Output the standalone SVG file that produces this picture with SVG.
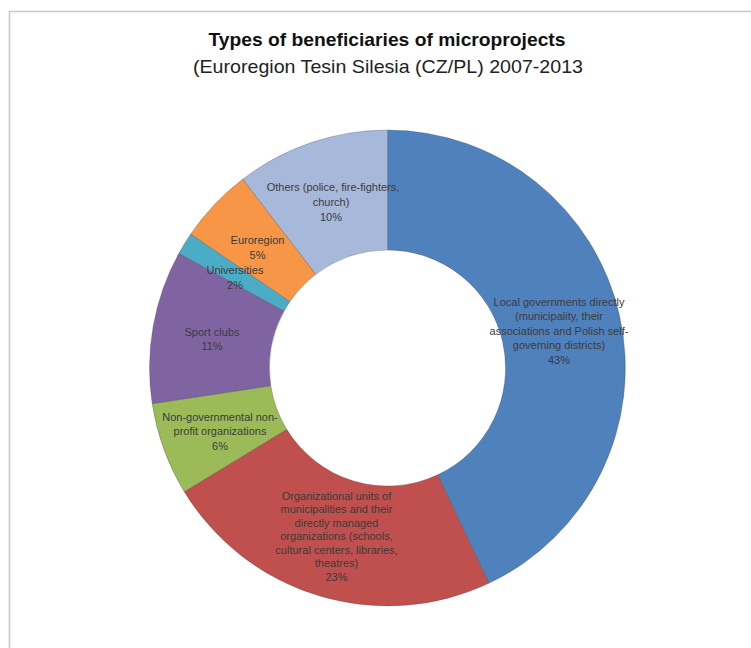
<svg xmlns="http://www.w3.org/2000/svg" width="751" height="648" viewBox="0 0 751 648">
<style>
.seg{stroke:#3a3a3a;stroke-opacity:0.35;stroke-width:0.8}
.lbl{font-family:"Liberation Sans",Arial,sans-serif;font-size:11px;fill:#3b3b3b;text-anchor:middle}
.t1{font-family:"Liberation Sans",Arial,sans-serif;font-size:18.5px;font-weight:bold;fill:#111;text-anchor:middle}
.t2{font-family:"Liberation Sans",Arial,sans-serif;font-size:19px;fill:#222;text-anchor:middle}
</style>
<rect width="751" height="648" fill="#fff"/>
<path d="M9.5,648 V11.5 H751" fill="none" stroke="#c8c8c8" stroke-width="1.6"/>
<g id="title">
<text class="t1" x="387" y="46" textLength="357" lengthAdjust="spacingAndGlyphs">Types of beneficiaries of microprojects</text>
<text class="t2" x="388" y="72.5" textLength="390" lengthAdjust="spacingAndGlyphs">(Euroregion Tesin Silesia (CZ/PL) 2007-2013</text>
</g>
<g id="local-governments">
<path class="seg" fill="#4F81BD" d="M387.5,130 A238,238 0 0 1 488.8,583.3 L437.7,474.8 A118,118 0 0 0 387.5,250 Z"/>
<text class="lbl" x="559" y="305.5">Local governments directly</text>
<text class="lbl" x="559" y="320">(municipality, their</text>
<text class="lbl" x="559" y="334.5">associations and Polish self-</text>
<text class="lbl" x="559" y="349">governing districts)</text>
<text class="lbl" x="559" y="363.5">43%</text>
</g>
<g id="organizational-units">
<path class="seg" fill="#C0504D" d="M488.8,583.3 A238,238 0 0 1 184.2,491.7 L286.7,429.3 A118,118 0 0 0 437.7,474.8 Z"/>
<text class="lbl" x="336.5" y="499.5">Organizational units of</text>
<text class="lbl" x="336.5" y="513">municipalities and their</text>
<text class="lbl" x="336.5" y="526.5">directly managed</text>
<text class="lbl" x="336.5" y="540">organizations (schools,</text>
<text class="lbl" x="336.5" y="553.5">cultural centers, libraries,</text>
<text class="lbl" x="336.5" y="567">theatres)</text>
<text class="lbl" x="336.5" y="580.5">23%</text>
</g>
<g id="non-governmental">
<path class="seg" fill="#9BBB59" d="M184.2,491.7 A238,238 0 0 1 152.2,403.7 L270.8,385.7 A118,118 0 0 0 286.7,429.3 Z"/>
<text class="lbl" x="220" y="420.5">Non-governmental non-</text>
<text class="lbl" x="220" y="435">profit organizations</text>
<text class="lbl" x="220" y="449.5">6%</text>
</g>
<g id="sport-clubs">
<path class="seg" fill="#8064A2" d="M152.2,403.7 A238,238 0 0 1 178.9,253.3 L284.1,311.1 A118,118 0 0 0 270.8,385.7 Z"/>
<text class="lbl" x="212" y="335.5">Sport clubs</text>
<text class="lbl" x="212" y="350">11%</text>
</g>
<g id="euroregion">
<path class="seg" fill="#F79646" d="M190.6,234.2 A238,238 0 0 1 242.8,179.1 L315.8,274.3 A118,118 0 0 0 289.9,301.7 Z"/>
<text class="lbl" x="257.5" y="244">Euroregion</text>
<text class="lbl" x="257.5" y="259">5%</text>
</g>
<g id="others">
<path class="seg" fill="#A7B9DB" d="M242.8,179.1 A238,238 0 0 1 387.5,130 L387.5,250 A118,118 0 0 0 315.8,274.3 Z"/>
<text class="lbl" x="333" y="190.5">Others (police, fire-fighters,</text>
<text class="lbl" x="331" y="206">church)</text>
<text class="lbl" x="331" y="221">10%</text>
</g>
<g id="universities">
<path class="seg" fill="#4BACC6" d="M178.9,253.3 A238,238 0 0 1 190.6,234.2 L289.9,301.7 A118,118 0 0 0 284.1,311.1 Z"/>
<text class="lbl" x="235" y="274">Universities</text>
<text class="lbl" x="235" y="289">2%</text>
</g>
<g id="connectors"/>
</svg>
